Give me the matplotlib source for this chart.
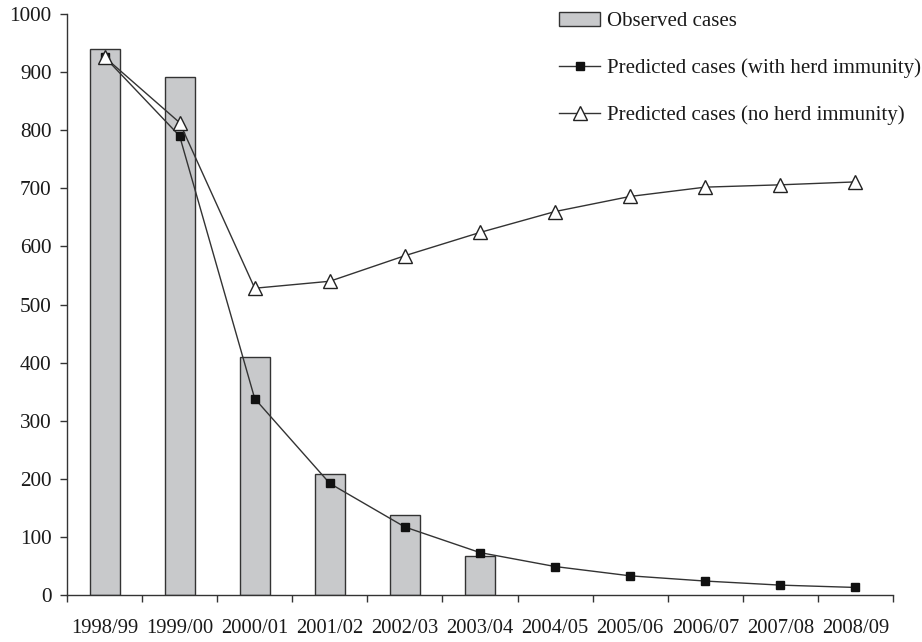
import matplotlib
matplotlib.use("Agg")
import matplotlib.pyplot as plt
import numpy as np

plt.rcParams['font.family'] = ['Liberation Serif', 'DejaVu Serif']

seasons = ["1998/99", "1999/00", "2000/01", "2001/02", "2002/03", "2003/04",
           "2004/05", "2005/06", "2006/07", "2007/08", "2008/09"]
observed = [939, 891, 410, 208, 137, 67]
pred_herd = [926, 790, 338, 192, 117, 73, 49, 33, 24, 17, 13]
pred_noherd = [926, 813, 528, 540, 584, 624, 660, 686, 702, 706, 711]

fig = plt.figure(figsize=(9.22, 6.42), dpi=100)
ax = fig.add_axes([67/922, 1-595/642, (893-67)/922, (595-14)/642])

x = np.arange(len(seasons))
b = ax.bar(x[:len(observed)], observed, width=0.4, color='#c8c9cb', edgecolor='#333333',
           linewidth=1.0, label='Observed cases', zorder=1)
l1, = ax.plot(x, pred_herd, color='#333333', linewidth=1.0, marker='s', markersize=6,
              markerfacecolor='#111111', markeredgecolor='#111111',
              label='Predicted cases (with herd immunity)', zorder=3)
l2, = ax.plot(x, pred_noherd, color='#333333', linewidth=1.0, marker='^', markersize=10,
              markerfacecolor='white', markeredgecolor='#222222', markeredgewidth=1.0,
              label='Predicted cases (no herd immunity)', zorder=4)

ax.set_xlim(-0.5, len(seasons) - 0.5)
ax.set_ylim(0, 1000)
ax.set_yticks(np.arange(0, 1001, 100))
ax.set_xticks(np.arange(-0.5, len(seasons), 1.0))
ax.set_xticklabels([])
ax.set_xticks(x, minor=True)
ax.set_xticklabels(seasons, minor=True)
ax.tick_params(axis='x', which='minor', length=0, pad=17, labelsize=14.8, labelcolor='#1a1a1a')
ax.tick_params(axis='x', which='major', length=5, width=1.0, direction='out', color='#333333')
ax.tick_params(axis='y', length=5, width=1.0, direction='out', pad=6, labelsize=15.3,
               labelcolor='#1a1a1a', color='#333333')

for s in ['top', 'right']:
    ax.spines[s].set_visible(False)
for s in ['left', 'bottom']:
    ax.spines[s].set_color('#333333')
    ax.spines[s].set_linewidth(1.0)

leg = fig.legend(handles=[b, l1, l2], loc='upper right', bbox_to_anchor=(929/922, 1-4/642),
                 frameon=False, fontsize=15, labelspacing=1.3, handlelength=2.0,
                 handleheight=0.6, handletextpad=0.3, borderaxespad=0, labelcolor='#1a1a1a')

fig.savefig('out.png', dpi=100)
